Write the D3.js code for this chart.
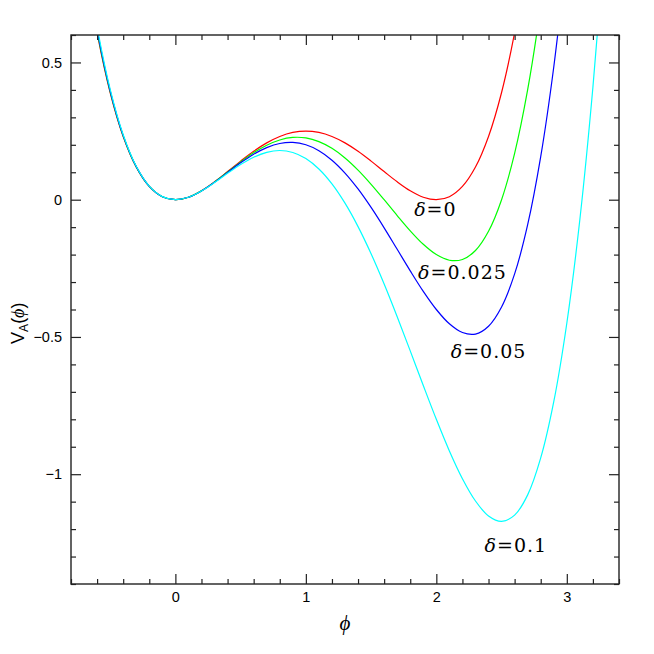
<!DOCTYPE html>
<html>
<head>
<meta charset="utf-8">
<script src="https://cdn.jsdelivr.net/npm/d3@7"></script>
<style>
  body { margin: 0; background: #fff; }
  text { fill: #000; }
</style>
</head>
<body>
<script>
// phi grid shared by all curves
const phi = [-0.7, -0.6, -0.5, -0.4, -0.3, -0.2, -0.1, 0, 0.1, 0.2, 0.3, 0.4, 0.5, 0.6, 0.7, 0.8, 0.9, 1.0,
  1.1, 1.2, 1.3, 1.4, 1.5, 1.6, 1.7, 1.8, 1.9, 2.0, 2.1, 2.2, 2.3, 2.4, 2.5, 2.6, 2.7, 2.8, 2.9, 3.0, 3.1, 3.2, 3.3];

const vDelta0 = [0.8930, 0.6084, 0.3906, 0.2304, 0.1190, 0.0484, 0.0110, 0, 0.0090, 0.0324, 0.0650, 0.1024, 0.1406,
  0.1764, 0.2070, 0.2304, 0.2450, 0.25, 0.2450, 0.2304, 0.2070, 0.1764, 0.1406, 0.1024, 0.0650, 0.0324, 0.0090, 0,
  0.0110, 0.0484, 0.1190, 0.2304, 0.3906, 0.6084, 0.8930];

const vDelta025 = [0.9016, 0.6138, 0.3937, 0.2320, 0.1197, 0.0486, 0.0110, 0, 0.0090, 0.0322, 0.0643, 0.1008, 0.1375,
  0.1710, 0.1984, 0.2176, 0.2268, 0.2250, 0.2117, 0.1872, 0.1521, 0.1078, 0.0562, 0.0000, -0.0578, -0.1134, -0.1625,
  -0.2000, -0.2205, -0.2178, -0.1852, -0.1152, 0.0000, 0.1690, 0.4009, 0.7056, 1.0933];

const vDelta05 = [0.9102, 0.6192, 0.3969, 0.2336, 0.1204, 0.0488, 0.0110, 0, 0.0089, 0.0320, 0.0636, 0.0992, 0.1343,
  0.1656, 0.1898, 0.2048, 0.2085, 0.2000, 0.1784, 0.1440, 0.0971, 0.0392, -0.0282, -0.1024, -0.1807, -0.2592, -0.3340,
  -0.4000, -0.4521, -0.4840, -0.4894, -0.4608, -0.3907, -0.2704, -0.0912, 0.1568, 0.4835, 0.9000];

const vDelta1 = [0.9273, 0.6300, 0.4031, 0.2368, 0.1217, 0.0492, 0.0111, 0, 0.0089, 0.0316, 0.0623, 0.0960, 0.1281,
  0.1548, 0.1727, 0.1792, 0.1721, 0.1500, 0.1119, 0.0576, -0.0127, -0.0980, -0.1969, -0.3072, -0.4263, -0.5508, -0.6769,
  -0.8000, -0.9151, -1.0164, -1.0977, -1.1520, -1.1719, -1.1492, -1.0753, -0.9408, -0.7359, -0.4500, -0.0721, 0.4096, 1.0073];

const seriesDelta = ['0', '0.025', '0.05', '0.1'];
const seriesColors = ['#ff0000', '#00ff00', '#0000ff', '#00ffff'];
const seriesValues = [vDelta0, vDelta025, vDelta05, vDelta1];
// where each label starts (left edge, baseline), in data units
const labelX = [1.83, 1.86, 2.11, 2.37];
const labelY = [-0.058, -0.29, -0.575, -1.283];

const xMajor = [0, 1, 2, 3];
const yMajor = [-1, -0.5, 0, 0.5];

const width = 654;
const height = 654;
const margin = { top: 35, right: 35, bottom: 70, left: 71 };

const x = d3.scaleLinear()
  .domain([-0.8, 3.4])
  .range([margin.left, width - margin.right]);

const y = d3.scaleLinear()
  .domain([-1.4, 0.6])
  .range([height - margin.bottom, margin.top]);

const svg = d3.select('body')
  .append('svg')
  .attr('width', width)
  .attr('height', height)
  .style('font-family', '"Liberation Sans", Arial, sans-serif');

svg.append('clipPath')
  .attr('id', 'plot-clip')
  .append('rect')
  .attr('x', margin.left)
  .attr('y', margin.top)
  .attr('width', width - margin.left - margin.right)
  .attr('height', height - margin.top - margin.bottom);

const line = d3.line()
  .x(d => x(d[0]))
  .y(d => y(d[1]))
  .curve(d3.curveCatmullRom.alpha(0.5));

svg.append('g')
  .attr('clip-path', 'url(#plot-clip)')
  .selectAll('path')
  .data(seriesValues)
  .join('path')
  .attr('d', vals => line(vals.map((v, i) => [phi[i], v])))
  .attr('fill', 'none')
  .attr('stroke', (d, i) => seriesColors[i])
  .attr('stroke-width', 1.2);

// axes: major + minor ticks on all four sides, pointing in
const xMinor = d3.range(-0.8, 3.41, 0.2).filter(v => Math.abs(v - Math.round(v)) > 1e-6);
const yMinor = d3.range(-1.4, 0.61, 0.1).filter(v => Math.abs(v * 2 - Math.round(v * 2)) > 1e-6);

const axisStyle = g => {
  g.select('.domain').remove();
  g.selectAll('line').attr('stroke', '#222').attr('stroke-width', 1.2);
  g.selectAll('text').attr('font-size', 14.5).attr('fill', '#000');
};

const plotH = height - margin.top - margin.bottom;
const plotW = width - margin.left - margin.right;

svg.append('g')
  .attr('transform', `translate(0,${height - margin.bottom})`)
  .call(d3.axisBottom(x).tickValues(xMajor).tickSize(-10).tickPadding(8).tickFormat(d3.format('d')))
  .call(axisStyle);
svg.append('g')
  .attr('transform', `translate(0,${height - margin.bottom})`)
  .call(d3.axisBottom(x).tickValues(xMinor).tickSize(-5).tickFormat(''))
  .call(axisStyle);
svg.append('g')
  .attr('transform', `translate(0,${margin.top})`)
  .call(d3.axisTop(x).tickValues(xMajor).tickSize(-10).tickFormat(''))
  .call(axisStyle);
svg.append('g')
  .attr('transform', `translate(0,${margin.top})`)
  .call(d3.axisTop(x).tickValues(xMinor).tickSize(-5).tickFormat(''))
  .call(axisStyle);

svg.append('g')
  .attr('transform', `translate(${margin.left},0)`)
  .call(d3.axisLeft(y).tickValues(yMajor).tickSize(-10).tickPadding(9)
    .tickFormat(d => d === 0 ? '0' : (d < 0 ? '\u2212' : '') + Math.abs(d)))
  .call(axisStyle);
svg.append('g')
  .attr('transform', `translate(${margin.left},0)`)
  .call(d3.axisLeft(y).tickValues(yMinor).tickSize(-5).tickFormat(''))
  .call(axisStyle);
svg.append('g')
  .attr('transform', `translate(${width - margin.right},0)`)
  .call(d3.axisRight(y).tickValues(yMajor).tickSize(-10).tickFormat(''))
  .call(axisStyle);
svg.append('g')
  .attr('transform', `translate(${width - margin.right},0)`)
  .call(d3.axisRight(y).tickValues(yMinor).tickSize(-5).tickFormat(''))
  .call(axisStyle);

svg.append('rect')
  .attr('x', margin.left)
  .attr('y', margin.top)
  .attr('width', plotW)
  .attr('height', plotH)
  .attr('fill', 'none')
  .attr('stroke', '#222')
  .attr('stroke-width', 1.4);

// curve labels
const labels = svg.append('g')
  .selectAll('text')
  .data(seriesDelta)
  .join('text')
  .attr('x', (d, i) => x(labelX[i]))
  .attr('y', (d, i) => y(labelY[i]))
  .attr('font-family', '"DejaVu Serif", "Liberation Serif", serif')
  .attr('font-size', 19)
  .attr('letter-spacing', 1);
labels.append('tspan').attr('font-style', 'italic').text('δ');
labels.append('tspan').text(d => '=' + d);

// axis titles
svg.append('text')
  .attr('x', x(1.3))
  .attr('y', 630)
  .attr('text-anchor', 'middle')
  .attr('font-family', '"Liberation Serif", "DejaVu Serif", serif')
  .attr('font-style', 'italic')
  .attr('font-size', 21)
  .text('ϕ');

const yTitle = svg.append('text')
  .attr('transform', `translate(24,${y(-0.45)}) rotate(-90)`)
  .attr('text-anchor', 'middle')
  .attr('font-size', 18);
yTitle.append('tspan').text('V');
yTitle.append('tspan').attr('font-size', 12).attr('dy', 4).text('A');
yTitle.append('tspan').attr('dy', -4).text('(');
yTitle.append('tspan').attr('font-family', '"Liberation Serif", serif').attr('font-style', 'italic').text('ϕ');
yTitle.append('tspan').text(')');
</script>
</body>
</html>
